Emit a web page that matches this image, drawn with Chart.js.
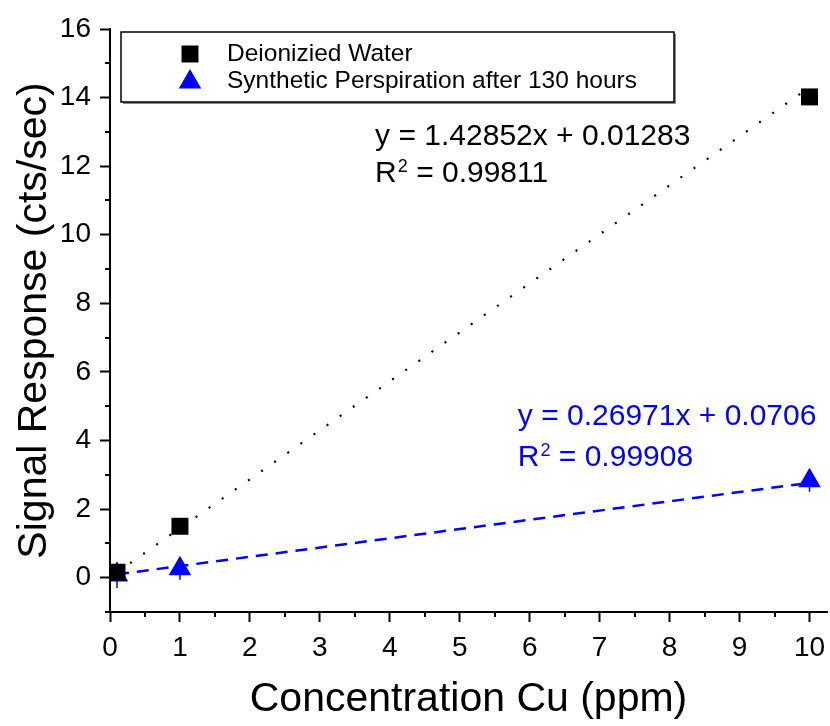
<!DOCTYPE html>
<html>
<head>
<meta charset="utf-8">
<script src="https://cdn.jsdelivr.net/npm/chart.js@4/dist/chart.umd.min.js"></script>
<style>
  html, body { margin: 0; padding: 0; background: #fff; }
  #wrap { width: 830px; height: 726px; }
</style>
</head>
<body>
<div id="wrap"><canvas id="c" width="830" height="726"></canvas></div>
<script>
// Measured Cu signal response versus concentration
const seriesNames = ['Deionizied Water', 'Synthetic Perspiration after 130 hours'];
const concDI = [0.1, 1, 10];
const signalDI = [0.16, 1.5, 14.02];
const concSP = [0.1, 1, 10];
const signalSP = [0.08, 0.26, 2.83];
const errorSP = [0.38, 0.32, 0.32];

// Linear fits as reported for each series
const fitSlope = [1.42852, 0.26971];
const fitIntercept = [0.01283, 0.0706];
const fitR2 = ['0.99811', '0.99908'];
const fitRange = [0.1, 10];

// Axis ticks
const xTicks = [0, 1, 2, 3, 4, 5, 6, 7, 8, 9, 10];
const xMinorTicks = [0.5, 1.5, 2.5, 3.5, 4.5, 5.5, 6.5, 7.5, 8.5, 9.5];
const yTicks = [0, 2, 4, 6, 8, 10, 12, 14, 16];
const yMinorTicks = [-1, 1, 3, 5, 7, 9, 11, 13, 15];

const FONT = "'Liberation Sans', Arial, Helvetica, sans-serif";
const BLUE = '#0000ff';

const toPoints = (xs, ys) => xs.map((x, i) => ({ x: x, y: ys[i] }));
const fitPoints = (k) => fitRange.map(x => ({ x: x, y: fitSlope[k] * x + fitIntercept[k] }));

// Equation label anchors (data units), line gaps and colours
const eqAnchorX = [3.79, 5.83];
const eqAnchorY = [12.62, 4.46];
const eqLineGap = [37, 41];
const eqColor = ['#000000', BLUE];

const minorTicksPlugin = {
  id: 'minorTicks',
  afterDraw(chart) {
    const ctx = chart.ctx, xs = chart.scales.x, ys = chart.scales.y;
    const area = chart.chartArea;
    ctx.save();
    ctx.strokeStyle = '#000';
    ctx.lineWidth = 2;
    ctx.beginPath();
    xMinorTicks.forEach(v => {
      const px = Math.round(xs.getPixelForValue(v));
      ctx.moveTo(px, area.bottom);
      ctx.lineTo(px, area.bottom + 5);
    });
    yMinorTicks.forEach(v => {
      const py = Math.round(ys.getPixelForValue(v));
      ctx.moveTo(area.left, py);
      ctx.lineTo(area.left - 5, py);
    });
    ctx.stroke();
    ctx.restore();
  }
};

const errorBarPlugin = {
  id: 'errorBars',
  beforeDatasetsDraw(chart) {
    const ctx = chart.ctx, xs = chart.scales.x, ys = chart.scales.y;
    ctx.save();
    ctx.strokeStyle = BLUE;
    ctx.lineWidth = 1.5;
    ctx.beginPath();
    concSP.forEach((x, i) => {
      const px = xs.getPixelForValue(x);
      ctx.moveTo(px, ys.getPixelForValue(signalSP[i] - errorSP[i]));
      ctx.lineTo(px, ys.getPixelForValue(signalSP[i] + errorSP[i]));
    });
    ctx.stroke();
    ctx.restore();
  }
};

const annotationPlugin = {
  id: 'fitLabels',
  afterDraw(chart) {
    const ctx = chart.ctx, xs = chart.scales.x, ys = chart.scales.y;
    const area = chart.chartArea;
    ctx.save();

    // Fit equations
    fitSlope.forEach((k, i) => {
      const x0 = xs.getPixelForValue(eqAnchorX[i]);
      const y0 = ys.getPixelForValue(eqAnchorY[i]);
      ctx.fillStyle = eqColor[i];
      ctx.textAlign = 'left';
      ctx.textBaseline = 'alphabetic';
      ctx.font = '30px ' + FONT;
      ctx.fillText('y = ' + fitSlope[i] + 'x + ' + fitIntercept[i], x0, y0);
      const y1 = y0 + eqLineGap[i];
      ctx.fillText('R', x0, y1);
      const rw = ctx.measureText('R').width;
      ctx.font = '18px ' + FONT;
      ctx.fillText('2', x0 + rw + 1, y1 - 10);
      const sw = ctx.measureText('2').width;
      ctx.font = '30px ' + FONT;
      ctx.fillText(' = ' + fitR2[i], x0 + rw + 1 + sw, y1);
    });

    // Legend box
    const bx = 121, by = 32, bw = 553, bh = 70;
    ctx.fillStyle = '#8a8a8a';
    ctx.fillRect(bx + 2, by + 2, bw, bh);
    ctx.fillStyle = '#fff';
    ctx.fillRect(bx, by, bw, bh);
    ctx.strokeStyle = '#000';
    ctx.lineWidth = 1.5;
    ctx.strokeRect(bx, by, bw, bh);

    const styles = [
      { pointStyle: 'rect', radius: 12, rotation: 0, borderWidth: 0, color: '#000' },
      { pointStyle: 'triangle', radius: 13, rotation: 0, borderWidth: 0, color: BLUE }
    ];
    const rowY = [54, 81];
    seriesNames.forEach((name, i) => {
      ctx.fillStyle = styles[i].color;
      ctx.strokeStyle = styles[i].color;
      Chart.helpers.drawPoint(ctx, styles[i], 190, rowY[i] + (i === 1 ? 1 : 0));
      ctx.fillStyle = '#000';
      ctx.font = '24.5px ' + FONT;
      ctx.textAlign = 'left';
      ctx.textBaseline = 'middle';
      ctx.fillText(name, 227, rowY[i]);
    });

    // Axis titles
    ctx.fillStyle = '#000';
    ctx.font = '41px ' + FONT;
    ctx.textAlign = 'center';
    ctx.textBaseline = 'middle';
    ctx.fillText('Concentration Cu (ppm)', (area.left + area.right) / 2, 700);
    ctx.save();
    ctx.translate(35, (area.top + area.bottom) / 2);
    ctx.rotate(-Math.PI / 2);
    ctx.fillText('Signal Response (cts/sec)', 0, 0);
    ctx.restore();

    ctx.restore();
  }
};

const tickFont = { family: FONT, size: 28 };

new Chart(document.getElementById('c'), {
  type: 'scatter',
  data: {
    datasets: [
      {
        label: seriesNames[0],
        data: toPoints(concDI, signalDI),
        pointStyle: 'rect',
        pointRadius: 12,
        pointBorderWidth: 0,
        backgroundColor: '#000',
        borderColor: '#000'
      },
      {
        label: seriesNames[1],
        data: toPoints(concSP, signalSP),
        pointStyle: 'triangle',
        pointRadius: 13,
        pointBorderWidth: 0,
        backgroundColor: BLUE,
        borderColor: BLUE
      },
      {
        label: 'fit DI',
        type: 'line',
        data: fitPoints(0),
        borderColor: '#000',
        borderWidth: 2.2,
        borderDash: [2, 14],
        pointRadius: 0,
        fill: false
      },
      {
        label: 'fit SP',
        type: 'line',
        data: fitPoints(1),
        borderColor: BLUE,
        borderWidth: 2.5,
        borderDash: [12, 8],
        pointRadius: 0,
        fill: false
      }
    ]
  },
  options: {
    responsive: false,
    animation: false,
    devicePixelRatio: 1,
    layout: { autoPadding: false, padding: { left: 0, right: 3, top: 29, bottom: 0 } },
    plugins: {
      legend: { display: false },
      tooltip: { enabled: false }
    },
    scales: {
      x: {
        type: 'linear',
        min: 0,
        max: 10.25,
        afterBuildTicks: s => { s.ticks = xTicks.map(v => ({ value: v })); },
        afterFit: s => { s.height = 114; s.paddingLeft = 0; s.paddingRight = 0; },
        grid: { display: true, drawOnChartArea: false, drawTicks: true, tickLength: 10, tickWidth: 2, tickColor: '#000' },
        border: { display: true, color: '#000', width: 2 },
        ticks: { font: tickFont, color: '#000', padding: 9, maxRotation: 0, autoSkip: false }
      },
      y: {
        type: 'linear',
        min: -1,
        max: 16,
        afterBuildTicks: s => { s.ticks = yTicks.map(v => ({ value: v })); },
        afterFit: s => { s.width = 110; s.paddingTop = 0; s.paddingBottom = 0; },
        grid: { display: true, drawOnChartArea: false, drawTicks: true, tickLength: 10, tickWidth: 2, tickColor: '#000' },
        border: { display: true, color: '#000', width: 2 },
        ticks: { font: tickFont, color: '#000', padding: 9, autoSkip: false }
      }
    }
  },
  plugins: [minorTicksPlugin, errorBarPlugin, annotationPlugin]
});
</script>
</body>
</html>
